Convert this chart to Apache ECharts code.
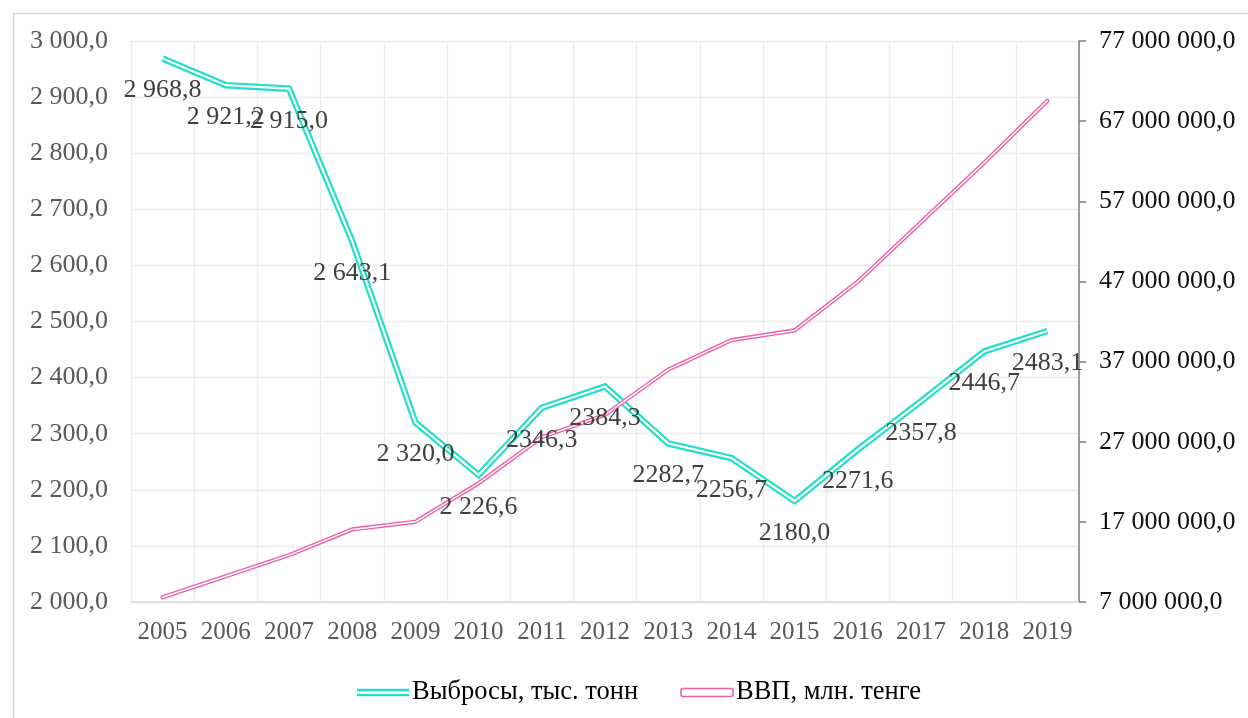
<!DOCTYPE html>
<html>
<head>
<meta charset="utf-8">
<script src="https://cdn.jsdelivr.net/npm/echarts@6/dist/echarts.min.js"></script>
<style>
html,body{margin:0;padding:0;background:#fff;}
#chart{width:1248px;height:718px;}
</style>
</head>
<body>
<div id="chart"></div>
<script>
const years = ['2005','2006','2007','2008','2009','2010','2011','2012','2013','2014','2015','2016','2017','2018','2019'];
const emissions = [2968.8, 2921.2, 2915.0, 2643.1, 2320.0, 2226.6, 2346.3, 2384.3, 2282.7, 2256.7, 2180.0, 2271.6, 2357.8, 2446.7, 2483.1];
const emissionLabels = ['2 968,8','2 921,2','2 915,0','2 643,1','2 320,0','2 226,6','2346,3','2384,3','2282,7','2256,7','2180,0','2271,6','2357,8','2446,7','2483,1'];
const gdp = [7590594, 10213731, 12849794, 16052919, 17007647, 21815517, 27571889, 30346958, 35999025, 39675833, 40884134, 46971150, 54378858, 61819536, 69532627];
const seriesNames = ['Выбросы, тыс. тонн', 'ВВП, млн. тенге'];

const FONT = "'Liberation Serif', 'Times New Roman', serif";
const FS = 26;
const TEAL = '#1fe0c6';
const PINK = '#ee5fa7';

function fmt(v){
  const neg = v < 0;
  let s = Math.abs(v).toFixed(1).split('.');
  let intp = s[0].replace(/\B(?=(\d{3})+(?!\d))/g, ' ');
  return (neg?'-':'') + intp + ',' + s[1];
}

const chart = echarts.init(document.getElementById('chart'));
chart.setOption({
  animation: false,
  backgroundColor: '#ffffff',
  graphic: [{
    type: 'rect', left: 11, top: 11, z: -10,
    shape: {width: 1260, height: 730},
    style: {fill: 'none', stroke: '#d9d9d9', lineWidth: 1.5}
  }],
  grid: {left: 131, right: 169, top: 41, bottom: 116},
  legend: {
    left: 352, top: 674,
    itemWidth: 52, itemHeight: 8, itemGap: 42,
    textStyle: {fontFamily: FONT, fontSize: 26.5, color: '#000000', padding: [0,0,0,-2]},
    data: [
      {name: seriesNames[0], icon: 'path://M0,0H50V2H0Z M0,5H50V7H0Z', itemStyle: {color: TEAL}},
      {name: seriesNames[1], icon: 'roundRect', itemStyle: {color: '#ffffff', borderColor: PINK, borderWidth: 1.6}}
    ]
  },
  xAxis: {
    type: 'category', data: years, boundaryGap: true,
    axisLine: {lineStyle: {color: '#d9d9d9', width: 1.5}},
    axisTick: {show: false},
    axisLabel: {fontFamily: FONT, fontSize: 25, color: '#595959', margin: 18, interval: 0},
    splitLine: {show: true, interval: 0, lineStyle: {color: '#ececec', width: 1.3}}
  },
  yAxis: [
    {
      type: 'value', min: 2000, max: 3000, interval: 100,
      axisLine: {show: false}, axisTick: {show: false},
      axisLabel: {fontFamily: FONT, fontSize: FS, color: '#595959', margin: 23, formatter: fmt},
      splitLine: {show: true, lineStyle: {color: '#ececec', width: 1.3}}
    },
    {
      type: 'value', min: 7000000, max: 77000000, interval: 10000000, position: 'right',
      axisLine: {show: true, lineStyle: {color: '#808080', width: 1.5}},
      axisTick: {show: true, inside: false, length: 7, lineStyle: {color: '#808080', width: 1.5}},
      axisLabel: {fontFamily: FONT, fontSize: FS, color: '#111111', margin: 20, formatter: fmt},
      splitLine: {show: false}
    }
  ],
  series: [
    {
      name: seriesNames[0], type: 'line', yAxisIndex: 0, data: emissions,
      showSymbol: false, symbol: 'none', z: 2,
      lineStyle: {color: TEAL, width: 6.5, cap: 'butt', join: 'miter'},
      itemStyle: {color: TEAL}
    },
    {
      name: 'teal-inner', type: 'line', yAxisIndex: 0, data: emissions,
      showSymbol: false, symbol: 'none', z: 3, legendHoverLink: false,
      lineStyle: {color: '#ffffff', width: 2.2, cap: 'butt', join: 'miter'}
    },
    {
      name: seriesNames[1], type: 'line', yAxisIndex: 1, data: gdp,
      showSymbol: false, symbol: 'none', z: 4,
      lineStyle: {color: PINK, width: 4.2, cap: 'round', join: 'round'},
      itemStyle: {color: PINK}
    },
    {
      name: 'pink-inner', type: 'line', yAxisIndex: 1, data: gdp,
      showSymbol: false, symbol: 'none', z: 5, legendHoverLink: false,
      lineStyle: {color: '#ffffff', width: 1.4, cap: 'round', join: 'round'}
    },
    {
      name: 'teal-labels', type: 'line', yAxisIndex: 0, data: emissions,
      showSymbol: true, symbol: 'circle', symbolSize: 2, z: 10, legendHoverLink: false,
      itemStyle: {color: 'rgba(255,255,255,0)', borderWidth: 0},
      lineStyle: {opacity: 0, width: 0},
      label: {
        show: true, position: 'bottom', distance: 18,
        fontFamily: FONT, fontSize: FS, color: '#404040',
        formatter: p => emissionLabels[p.dataIndex]
      },
      labelLayout: {hideOverlap: false}
    }
  ]
});
</script>
</body>
</html>
